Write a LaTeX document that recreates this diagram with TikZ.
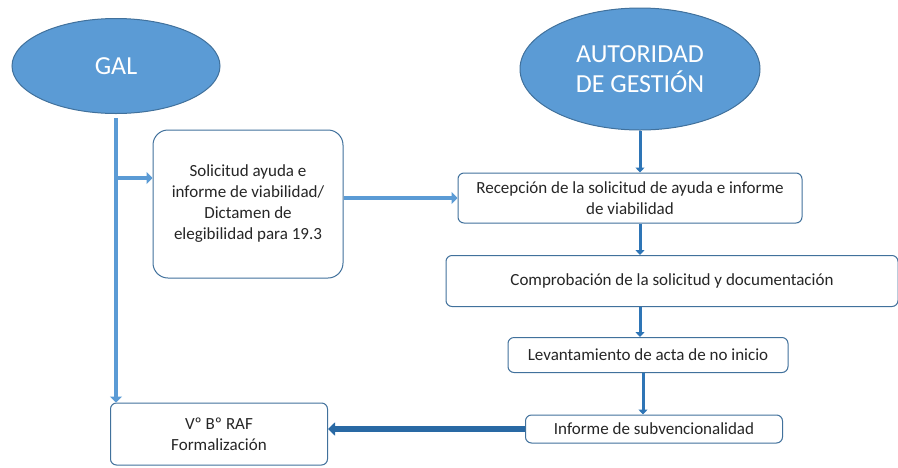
\documentclass[tikz,border=0pt]{standalone}
\usepackage{fontspec}
\setmainfont{Carlito}
\usetikzlibrary{arrows.meta,shapes.geometric,calc}
\definecolor{fillblue}{HTML}{5B9BD5}
\definecolor{edgeblue}{HTML}{41719C}
\definecolor{arrblue}{HTML}{2E75B6}
\definecolor{txt}{HTML}{262626}
\tikzset{
  oval/.style={ellipse, fill=fillblue, draw=edgeblue, line width=1pt, text=white, font=\fontsize{26}{30}\selectfont, align=center, inner sep=0pt},
  box/.style={draw=edgeblue, line width=1pt, rounded corners=6pt, fill=white, text=txt, font=\fontsize{17}{21}\selectfont, align=center, inner sep=0pt},
  thickarr/.style={draw=fillblue, line width=4.5pt, -{Triangle[width=12pt,length=6pt]}},
  thinarr/.style={draw=arrblue, line width=3pt, -{Triangle[width=9pt,length=5pt]}},
  bigarr/.style={draw=arrblue!90!black, line width=6pt, -{Triangle[width=13pt,length=7pt]}}
}
\begin{document}
\begin{tikzpicture}[x=1pt,y=-1pt]
\useasboundingbox (0,0) rectangle (898,467);
% ellipses
\node[oval, minimum width=208pt, minimum height=95pt] (GAL) at (116,66) {GAL};
\node[oval, minimum width=240pt, minimum height=122pt] (AG) at (640,69) {AUTORIDAD\\DE GESTIÓN};
% boxes
\node[box, rounded corners=15pt, minimum width=190pt, minimum height=148pt] (S) at (248,204)
  {Solicitud ayuda e\\informe de viabilidad/\\Dictamen de\\elegibilidad para 19.3};
\node[box, minimum width=344pt, minimum height=50pt] (R) at (630,198)
  {Recepción de la solicitud de ayuda e informe\\de viabilidad};
\node[box, minimum width=452pt, minimum height=51pt] (C) at (672,281)
  {Comprobación de la solicitud y documentación};
\node[box, minimum width=280pt, minimum height=35pt] (L) at (648,355)
  {Levantamiento de acta de no inicio};
\node[box, minimum width=257pt, minimum height=28pt] (I) at (654,429)
  {Informe de subvencionalidad};
\node[box, minimum width=217pt, minimum height=62pt] (V) at (219,434)
  {Vº Bº RAF\\Formalización};
% connectors
\coordinate (g1) at ($(GAL.south)+(0,4)$);
\coordinate (g2) at (116,178);
\draw[thickarr] (g1) -- (GAL.south |- V.north);
\draw[thickarr] (g2) -- (S.west |- g2);
\draw[thickarr] (S.east |- R.west) -- (R.west);
\draw[thinarr] (AG.south) -- (AG.south |- R.north);
\draw[thinarr] (AG.south |- R.south) -- (AG.south |- C.north);
\draw[thinarr] (AG.south |- C.south) -- (AG.south |- L.north);
\draw[thinarr] ($(AG.south |- L.south)+(3,0)$) -- ($(AG.south |- I.north)+(3,0)$);
\draw[bigarr] (I.west) -- (V.east |- I.west);
\end{tikzpicture}
\end{document}
